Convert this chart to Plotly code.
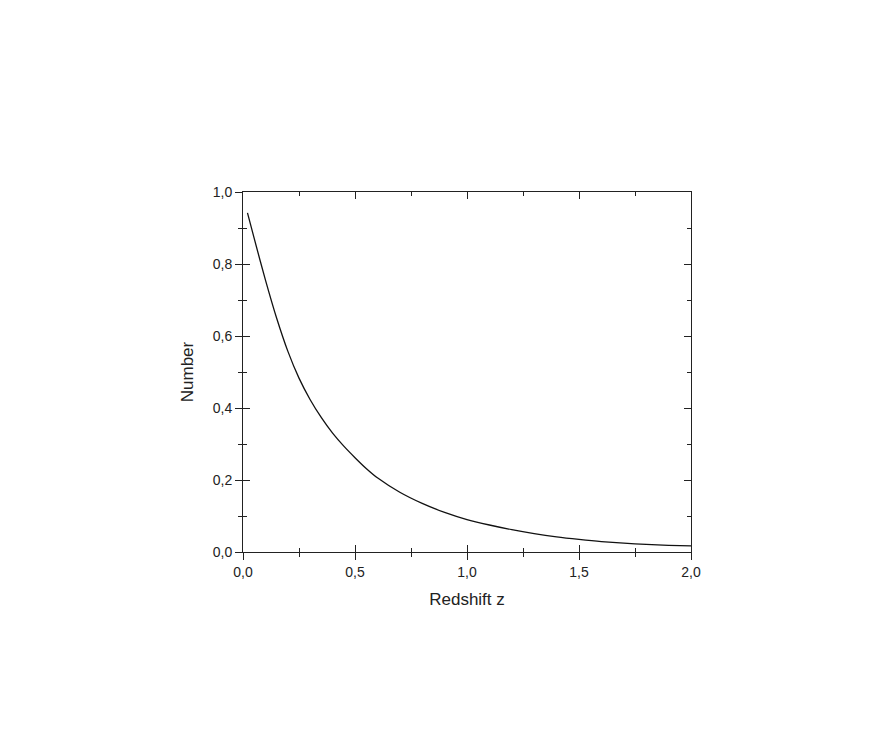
import plotly.graph_objects as go

redshift = [0.02, 0.05, 0.1, 0.15, 0.2, 0.25, 0.3, 0.35, 0.4, 0.45, 0.5, 0.55, 0.6,
            0.7, 0.8, 0.9, 1.0, 1.1, 1.2, 1.3, 1.4, 1.5, 1.6, 1.7, 1.8, 1.9, 2.0]
number = [0.942, 0.871, 0.756, 0.650, 0.558, 0.483, 0.423, 0.373, 0.330, 0.294, 0.262,
          0.232, 0.206, 0.166, 0.135, 0.110, 0.090, 0.075, 0.062, 0.051, 0.042, 0.035,
          0.029, 0.0245, 0.021, 0.0185, 0.017]

x_ticks = [0.0, 0.5, 1.0, 1.5, 2.0]
y_ticks = [0.0, 0.2, 0.4, 0.6, 0.8, 1.0]

axcol = "#222222"
font = dict(family="Liberation Sans, Arial, sans-serif", size=14, color="#222222")

fig = go.Figure()
fig.add_trace(go.Scatter(x=redshift, y=number, mode="lines",
                         line=dict(color="#111111", width=1.3, shape="spline", smoothing=0.8),
                         showlegend=False, hoverinfo="skip"))

common = dict(showgrid=False, zeroline=False, linecolor=axcol, tickcolor=axcol, tickwidth=1.2)

fig.update_layout(
    width=876, height=744,
    margin=dict(l=235, r=193, t=184, b=200, pad=0),
    paper_bgcolor="white", plot_bgcolor="white",
    separators=",.",
    font=font,
    xaxis=dict(range=[0, 2], tickvals=x_ticks, ticks="inside", ticklen=7,
               showline=True, linewidth=1.3, mirror="ticks", showticklabels=False,
               minor=dict(ticks="inside", ticklen=4, dtick=0.25, tick0=0, tickcolor=axcol, tickwidth=1.2),
               **common),
    yaxis=dict(range=[0, 1], tickvals=y_ticks, ticks="inside", ticklen=7,
               showline=True, linewidth=1.3, mirror="ticks", showticklabels=False,
               minor=dict(ticks="inside", ticklen=4, dtick=0.1, tick0=0, tickcolor=axcol, tickwidth=1.2),
               **common),
    xaxis2=dict(overlaying="x", side="bottom", range=[0, 2], tickvals=x_ticks,
                tickformat=".1f", ticks="outside", ticklen=7, showline=False,
                minor=dict(ticks="outside", ticklen=4, dtick=0.25, tick0=0, tickcolor=axcol, tickwidth=1.2),
                title=dict(text="Redshift z", font=dict(size=17), standoff=14),
                **common),
    yaxis2=dict(overlaying="y", side="left", range=[0, 1], tickvals=y_ticks,
                tickformat=".1f", ticks="outside", ticklen=7, showline=False,
                minor=dict(ticks="outside", ticklen=4, dtick=0.1, tick0=0, tickcolor=axcol, tickwidth=1.2),
                title=dict(text="Number", font=dict(size=17), standoff=14),
                **common),
)
fig.add_trace(go.Scatter(x=[None], y=[None], xaxis="x2", yaxis="y2", showlegend=False, hoverinfo="skip"))

fig.write_html("out.html")
